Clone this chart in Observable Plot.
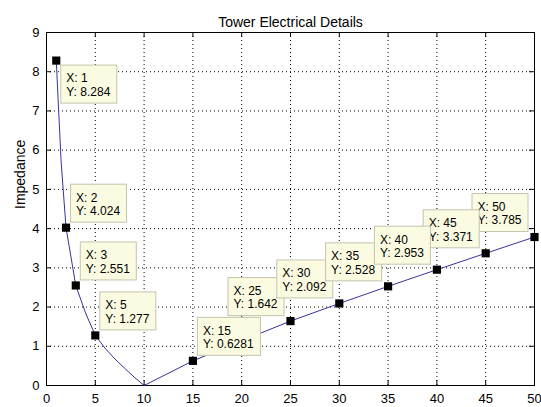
<!DOCTYPE html>
<html>
<head>
<meta charset="utf-8">
<script src="https://cdn.jsdelivr.net/npm/d3@7"></script>
<script src="https://cdn.jsdelivr.net/npm/@observablehq/plot@0.6"></script>
<style>
  html, body { margin: 0; padding: 0; background: #fff; }
  #chart { width: 541px; height: 407px; }
</style>
</head>
<body>
<div id="chart"></div>
<script>
// ---- data ----
const title = "Tower Electrical Details";
const yLabel = "Impedance";
const xValues = [1, 1.5, 2, 3, 4, 5, 6, 7, 8, 9, 10, 15, 20, 25, 30, 35, 40, 45, 50];
const yValues = [8.284, 5.7, 4.024, 2.551, 1.85, 1.277, 0.95, 0.68, 0.44, 0.21, 0, 0.6281, 1.14, 1.642, 2.092, 2.528, 2.953, 3.371, 3.785];
const xTicks = [0, 5, 10, 15, 20, 25, 30, 35, 40, 45, 50];
const yTicks = [0, 1, 2, 3, 4, 5, 6, 7, 8, 9];
const tipXs = [1, 2, 3, 5, 15, 25, 30, 35, 50, 45, 40]; // data tips (draw order)

// ---- layout / style ----
const W = 541, H = 407;
const M = {top: 32, right: 7, bottom: 22, left: 46};
const frameH = H - M.top - M.bottom;
const frameW = W - M.left - M.right;
const tickLen = 5;
const font = "'Liberation Sans', Arial, Helvetica, sans-serif";
const tipFont = 12;
const tipH = 38;
// tip placement: ur = up-right, dr = down-right, ul = up-left
const tipPlace = {1: "dr", 2: "ur", 3: "ur", 5: "ur", 15: "ur", 25: "ul", 30: "ul", 35: "ul", 40: "ul", 45: "ul", 50: "ul"};

const data = xValues.map((x, i) => ({x, y: yValues[i]}));
const fmt = d3.format(".4~");
const tips = tipXs.map(x => data.find(d => d.x === x));

const ctx = document.createElement("canvas").getContext("2d");
ctx.font = `${tipFont}px ${font}`;
const measure = s => ctx.measureText(s).width;

const tipMarks = tips.flatMap(t => {
  const l1 = `X: ${t.x}`, l2 = `Y: ${fmt(t.y)}`;
  const bw = Math.round(Math.max(measure(l1), measure(l2)) + 12);
  const p = tipPlace[t.x];
  let offL, offT;
  if (p === "ur") { offL = 5; offT = -5 - tipH; }
  else if (p === "dr") { offL = 5; offT = 5; }
  else { offL = -6 - bw; offT = -5 - tipH; }
  return [
    Plot.rect([t], {x1: "x", x2: "x", y1: "y", y2: "y",
      insetLeft: offL, insetRight: -(offL + bw), insetTop: offT, insetBottom: -(offT + tipH),
      fill: "#fbfbe2", stroke: "#c4c4ae", strokeWidth: 1}),
    Plot.text([t], {x: "x", y: "y", text: () => l1, textAnchor: "start",
      dx: offL + 5, dy: offT + 13, fontSize: tipFont, fill: "#000"}),
    Plot.text([t], {x: "x", y: "y", text: () => l2, textAnchor: "start",
      dx: offL + 5, dy: offT + 26.5, fontSize: tipFont, fill: "#000"})
  ];
});

const gridX = xTicks.slice(1, -1);
const gridY = yTicks.slice(1, -1);

const plot = Plot.plot({
  width: W, height: H,
  marginTop: M.top, marginRight: M.right, marginBottom: M.bottom, marginLeft: M.left,
  style: {fontFamily: font, background: "#fff", color: "#000", overflow: "visible"},
  x: {domain: [0, 50], ticks: xTicks, label: null},
  y: {domain: [0, 9], ticks: yTicks, label: null},
  marks: [
    // dotted grid
    Plot.ruleX(gridX, {stroke: "#000", strokeDasharray: "1,3", strokeWidth: 1}),
    Plot.ruleY(gridY, {stroke: "#000", strokeDasharray: "1,3", strokeWidth: 1}),
    // inward ticks
    Plot.ruleX(xTicks, {stroke: "#000", insetTop: frameH - tickLen}),
    Plot.ruleX(xTicks, {stroke: "#000", insetBottom: frameH - tickLen}),
    Plot.ruleY(yTicks, {stroke: "#000", insetRight: frameW - tickLen}),
    Plot.ruleY(yTicks, {stroke: "#000", insetLeft: frameW - tickLen}),
    Plot.frame({stroke: "#000", strokeWidth: 1}),
    // tick labels
    Plot.axisX(xTicks, {tickSize: 0, tickPadding: 8, fontSize: 13, label: null}),
    Plot.axisY(yTicks, {tickSize: 0, tickPadding: 7, fontSize: 13, label: null}),
    // series
    Plot.line(data, {x: "x", y: "y", stroke: "#3434a0", strokeWidth: 1}),
    Plot.dot(tips, {x: "x", y: "y", symbol: "square", r: 4.6, fill: "#000", stroke: "none"}),
    ...tipMarks,
    // title and y label
    Plot.text([title], {frameAnchor: "top", dy: -15, fontSize: 14, fill: "#000"}),
    Plot.text([yLabel], {frameAnchor: "left", rotate: -90, dx: -26, fontSize: 14, fill: "#000"})
  ]
});
document.getElementById("chart").appendChild(plot);
</script>
</body>
</html>
